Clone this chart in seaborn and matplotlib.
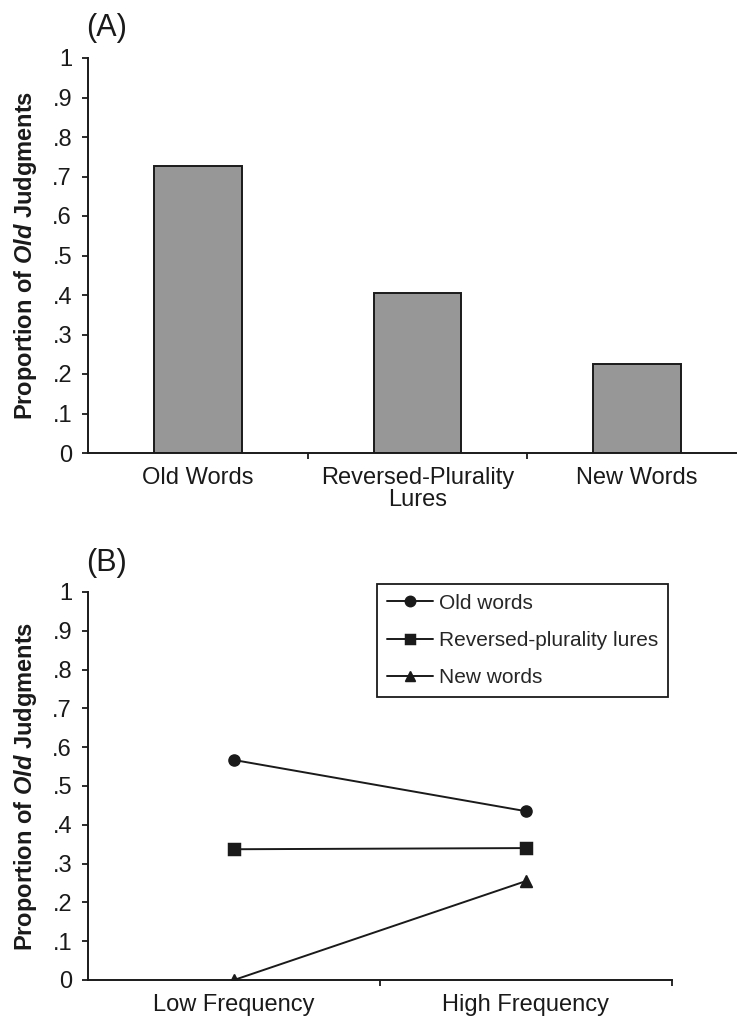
import pandas as pd
import matplotlib.pyplot as plt
import seaborn as sns

# ---------------- data ----------------
cond_a = ["Old Words", "Reversed-Plurality\nLures", "New Words"]
prop_a = [0.727, 0.404, 0.225]

freq_b = ["Low Frequency", "High Frequency"]
series_b = ["Old words", "Reversed-plurality lures", "New words"]
old_b = [0.567, 0.435]
rev_b = [0.337, 0.340]
new_b = [0.0, 0.255]

ytick_vals = [0, .1, .2, .3, .4, .5, .6, .7, .8, .9, 1]
ytick_labels = ["0", ".1", ".2", ".3", ".4", ".5", ".6", ".7", ".8", ".9", "1"]

# ---------------- style ----------------
sns.set_theme(style="ticks")
plt.rcParams['font.family'] = ['Liberation Sans', 'DejaVu Sans']
plt.rcParams['mathtext.fontset'] = 'custom'
plt.rcParams['mathtext.bfit'] = 'Liberation Sans:italic:bold'
plt.rcParams['mathtext.rm'] = 'Liberation Sans'
INK = '#1a1a1a'

df_a = pd.DataFrame({'cond': cond_a, 'prop': prop_a})
df_b = pd.DataFrame({
    'freq': freq_b * 3,
    'series': [s for s in series_b for _ in freq_b],
    'prop': old_b + rev_b + new_b,
})

fig = plt.figure(figsize=(7.37, 10.28), dpi=100)
axA = fig.add_axes([88 / 737, 1 - 453 / 1028, 648 / 737, 395 / 1028])
axB = fig.add_axes([88 / 737, 1 - 980 / 1028, 584 / 737, 388 / 1028])

# (A) bar chart
sns.barplot(data=df_a, x='cond', y='prop', ax=axA, color='#979797',
            edgecolor=INK, linewidth=1.4, width=0.4, saturation=1)
axA.set_xlim(-0.5, 2.45)

# (B) point / line chart
sns.pointplot(data=df_b, x='freq', y='prop', hue='series', hue_order=series_b,
              palette=[INK] * 3, markers=['o', 's', '^'], linestyles='-',
              errorbar=None, ax=axB, markersize=8, linewidth=1.4)
axB.set_xlim(-0.5, 1.5)

ylabel = 'Proportion of $\\mathbfit{Old}$ Judgments'
for ax, lx in [(axA, -0.0755), (axB, -0.084)]:
    ax.set_ylim(0, 1)
    ax.set_yticks(ytick_vals)
    ax.set_yticklabels(ytick_labels)
    ax.set_xlabel('')
    ax.set_ylabel(ylabel, fontsize=17, fontweight='bold', color=INK)
    ax.yaxis.set_label_coords(lx, 0.5)
    sns.despine(ax=ax)
    for s in ['left', 'bottom']:
        ax.spines[s].set_linewidth(1.4)
        ax.spines[s].set_color(INK)
    ax.tick_params(axis='y', length=4.5, width=1.3, pad=7, labelsize=17,
                   colors=INK)
    ax.tick_params(axis='x', which='major', length=0, pad=10, labelsize=17,
                   colors=INK)
    ax.set_xticks([0.5, 1.5], minor=True)
    ax.tick_params(axis='x', which='minor', length=4.5, width=1.3, color=INK)
    for t in ax.get_xticklabels():
        t.set_linespacing(1.0)

# legend
handles, labels = axB.get_legend_handles_labels()
leg = axB.legend(handles, labels, loc='upper right',
                 bbox_to_anchor=(0.993, 1.021), borderaxespad=0,
                 fontsize=15, frameon=True, fancybox=False, framealpha=1,
                 edgecolor=INK, handlelength=2.2, handletextpad=0.3,
                 labelspacing=0.88, borderpad=0.47)
leg.get_frame().set_linewidth(1.3)
for h in leg.legend_handles:
    h.set_markersize(7.5)

fig.text(86 / 737, 1 - 36 / 1028, '(A)', fontsize=22, color=INK,
         ha='left', va='baseline')
fig.text(86 / 737, 1 - 571 / 1028, '(B)', fontsize=22, color=INK,
         ha='left', va='baseline')

fig.savefig('out.png', dpi=100)
